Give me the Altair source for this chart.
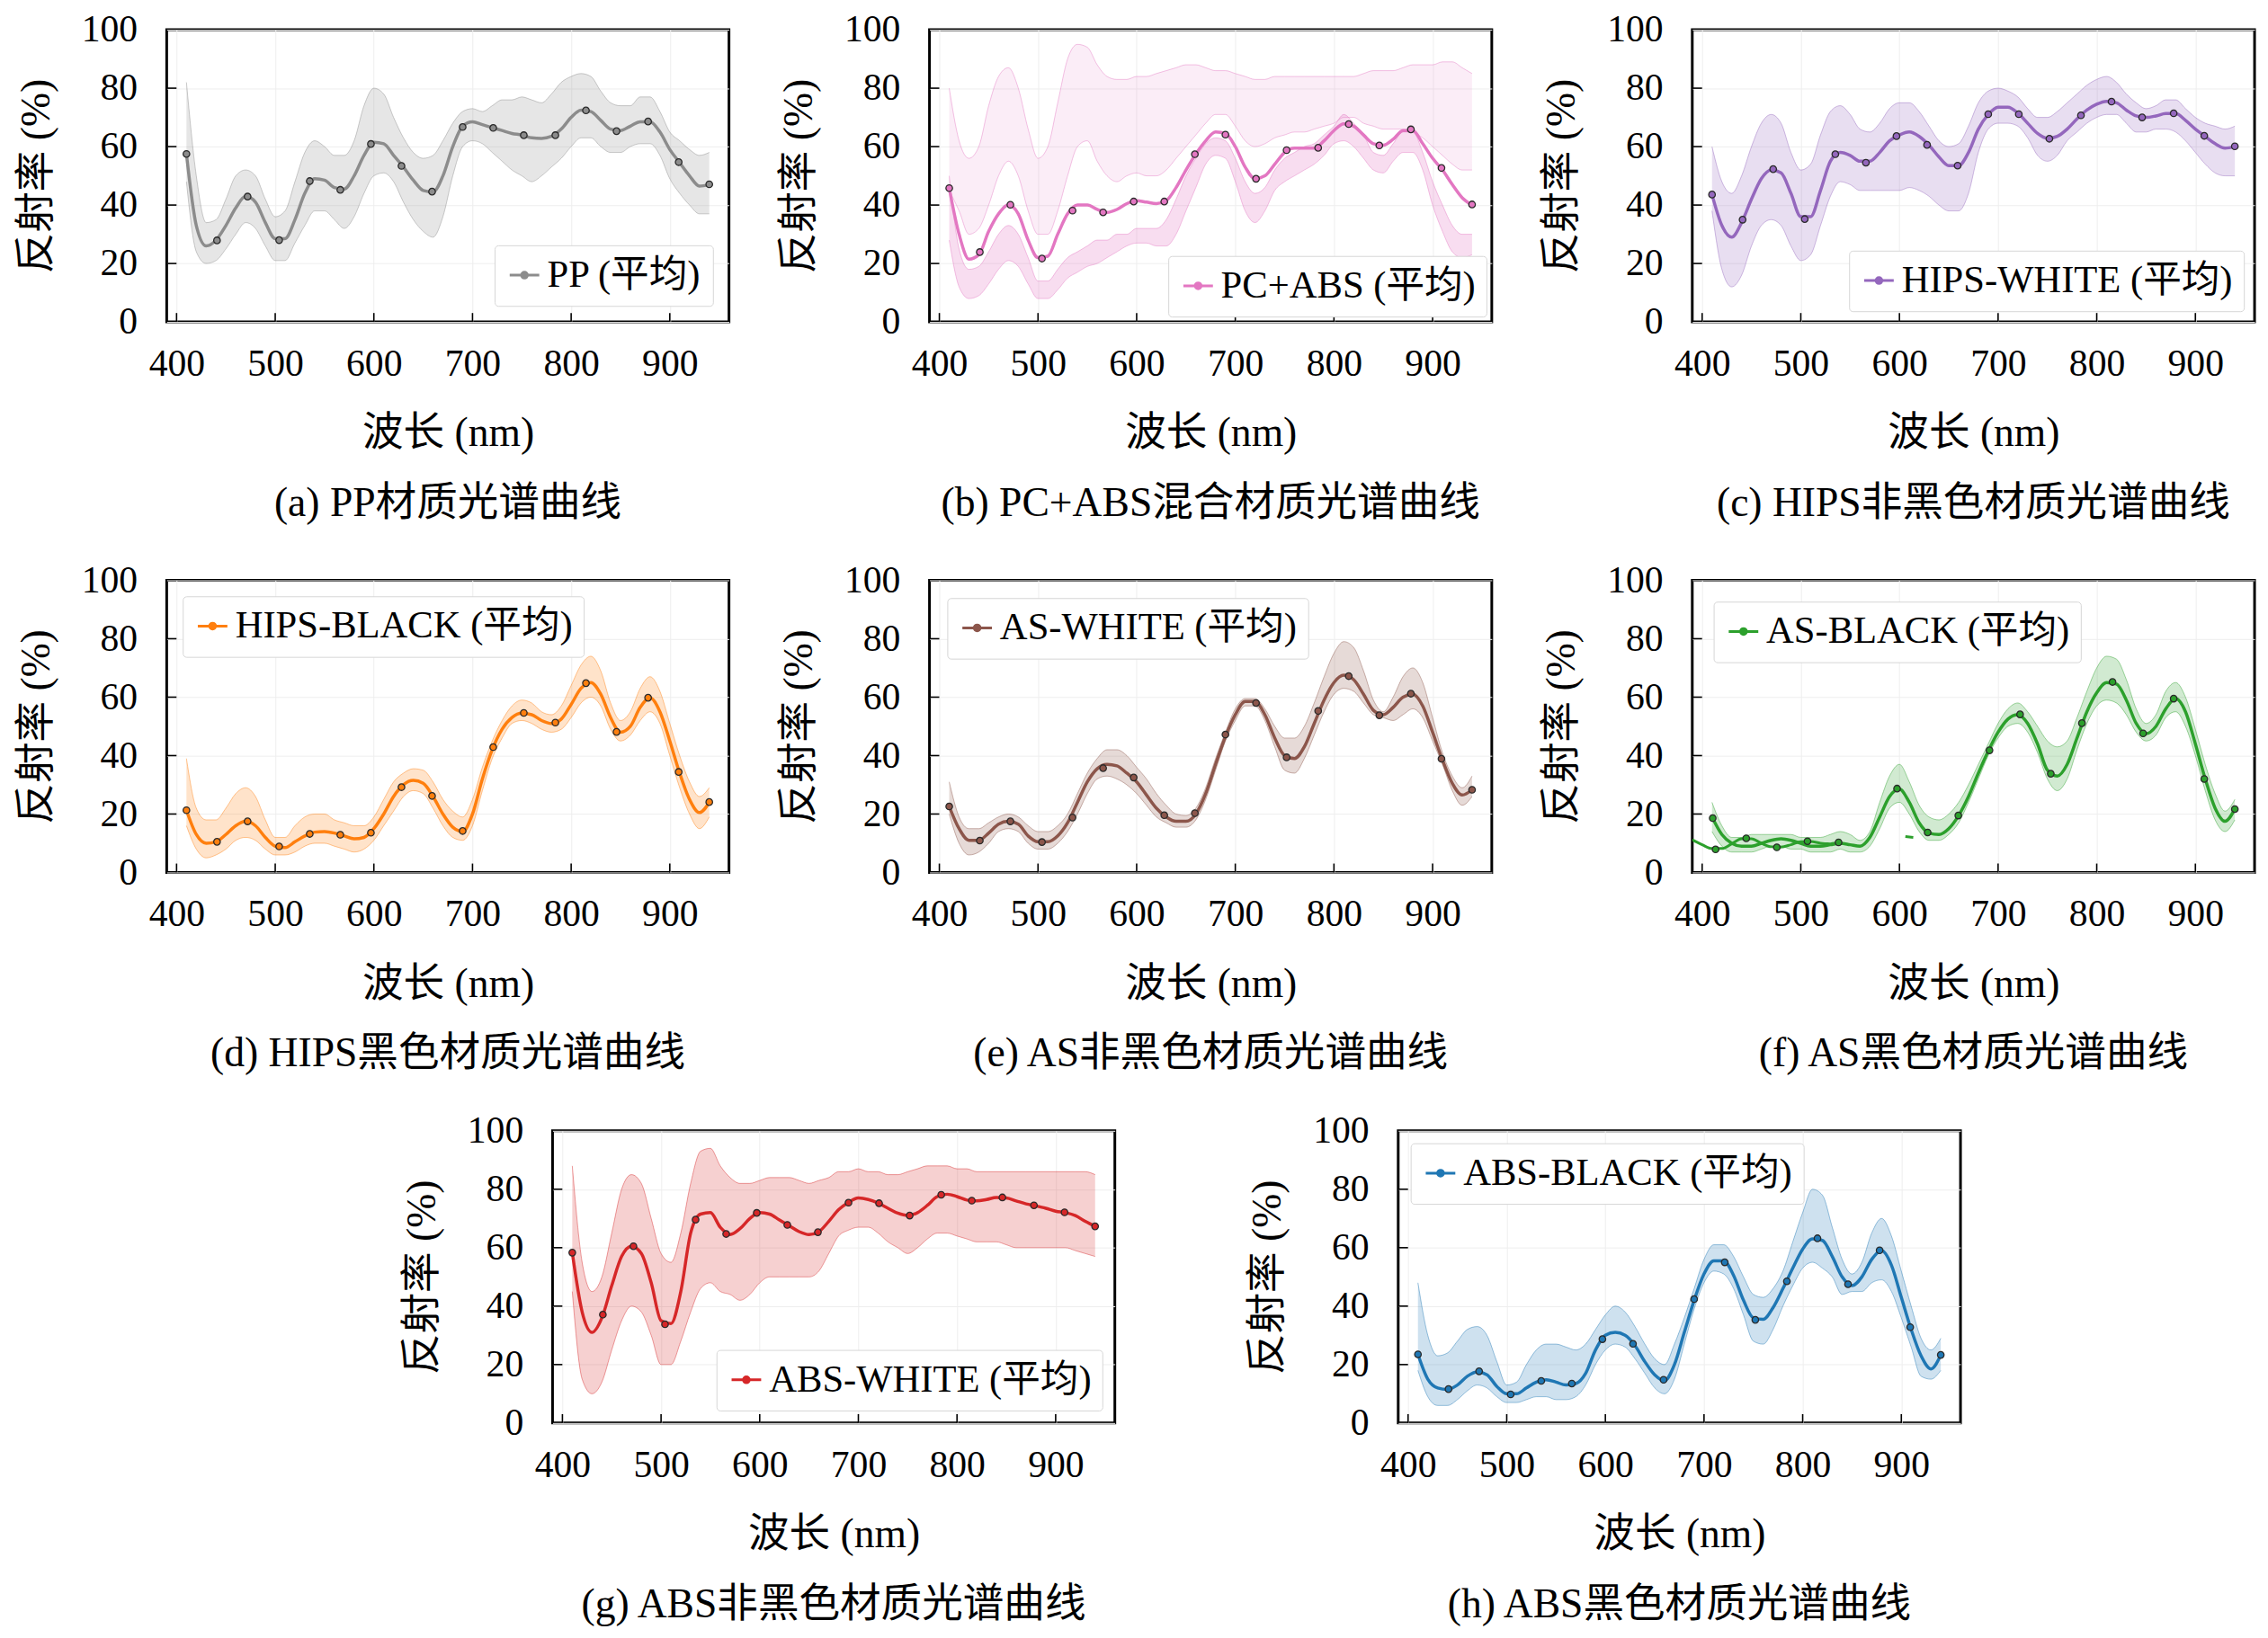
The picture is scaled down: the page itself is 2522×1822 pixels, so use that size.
import altair as alt
import pandas as pd

FONT = "Liberation Serif, Noto Sans CJK SC"
W, H = 631, 328
FS_TICK = 42
FS_TEXT = 46

# wavelength grid (nm) and marker positions
WL = list(range(410, 941, 10))
MK_WL = [410, 441, 472, 504, 535, 566, 597, 628, 659, 690, 721, 752, 784, 815, 846, 878, 909, 940]
X_TICKS = [400, 500, 600, 700, 800, 900]
Y_TICKS = [0, 20, 40, 60, 80, 100]

# (a) PP
PP_MEAN = [57.5, 33, 26, 28, 33, 39, 43, 41, 34, 28.5,
           28.5, 35, 44, 49, 48.5, 46, 45.5, 50, 57, 61.5,
           61, 57, 53, 48.5, 45, 44.5, 50, 60, 67, 68.5,
           67.5, 66.5, 65.5, 64.5, 64, 63, 62.8, 63.5, 66, 70,
           72.5, 72, 69, 66, 65.5, 67, 68.5, 68.5, 65, 59,
           54.5, 50, 46.5, 47]
PP_LO = [48, 24, 20, 21, 25, 30, 34, 32, 26, 21,
         21, 27, 33, 38, 38, 35, 32, 36, 44, 50,
         51, 48, 41, 35, 31, 29, 36, 50, 60, 62,
         61, 58, 55, 52, 50, 48, 50, 53, 56, 60,
         63, 63, 60, 58, 58, 60, 61, 61, 57, 49,
         44, 40, 37, 37]
PP_HI = [82, 50, 34, 35, 42, 50, 52, 50, 42, 36,
         38, 48, 58, 62, 60, 57, 57, 62, 74, 80,
         78, 70, 63, 58, 56, 57, 62, 68, 72, 73,
         72, 74, 76, 76, 77, 76, 75, 78, 82, 84,
         85, 84, 79, 75, 74, 74, 77, 77, 72, 65,
         62, 59, 57, 58]
PP_MK = [57.5, 27.9, 42.9, 28, 48.2, 45.2, 60.9, 53.4, 44.6, 66.7, 66.4, 63.9, 63.9, 72.4, 65.3, 68.6, 54.7, 47.1]

# (b) PC+ABS
PC_MEAN = [45.8, 30, 21.5, 23, 31, 37, 40, 37, 28, 22,
           22.5, 30, 37, 40, 40, 38.5, 37.5, 38.5, 40.5, 41.5,
           41, 40.5, 41.5, 46, 52, 57.5, 62, 65, 64.5, 60,
           53, 49, 50, 54, 58, 59.5, 59.5, 59.5, 62, 65.5,
           67.8, 67, 64, 61, 60.5, 62.5, 65.5, 65.5, 61, 56,
           52, 47, 42.5, 40]
PC_LO1 = [28, 12, 8, 9, 13, 18, 21, 19, 13, 8,
          8, 11, 15, 17, 19, 20, 22, 24, 26, 27,
          27, 26, 26, 30, 38, 46, 54, 57, 56, 48,
          38, 34, 38, 45, 48, 50, 52, 54, 57, 61,
          62, 60, 56, 52, 51, 55, 58, 58, 52, 40,
          31, 24, 22, 23]
PC_HI1 = [50, 25, 18, 19, 24, 30, 33, 30, 22, 14,
          14, 18, 22, 24, 26, 28, 28, 30, 30, 32,
          32, 32, 35, 42, 50, 56, 61, 63, 62, 56,
          48, 44, 46, 52, 56, 58, 60, 61, 64, 67,
          71, 68, 64, 58, 57, 61, 65, 65, 58, 48,
          40, 33, 30, 30]
PC_LO2 = [45, 38, 30, 32, 40, 50, 55, 50, 38, 30,
          30, 38, 50, 60, 62, 55, 50, 48, 50, 51,
          50, 50, 52, 56, 60, 64, 68, 71, 71, 67,
          62, 60, 61, 63, 64, 65, 65, 66, 67, 68,
          70, 70, 68, 67, 66, 66, 66, 65, 63, 60,
          57, 54, 52, 52]
PC_HI2 = [80, 62, 56, 60, 74, 84, 87, 80, 66, 56,
          60, 75, 90, 95, 94, 88, 84, 83, 83, 84,
          84, 85, 86, 87, 88, 88, 87, 86, 86, 85,
          84, 83, 83, 84, 84, 84, 84, 84, 84, 84,
          84, 84, 85, 86, 86, 86, 87, 88, 88, 88,
          89, 89, 87, 85]
PC_MK = [45.8, 23.9, 40.1, 21.7, 38.1, 37.5, 41.2, 41.2, 57.4, 64.1, 49, 58.8, 59.6, 67.7, 60.4, 65.9, 52.7, 40.2]

# (c) HIPS-WHITE
HW_MEAN = [43.6, 33, 29, 34, 42, 49, 52, 51, 44, 36,
           36, 45, 55, 58, 57, 55, 55, 58, 62, 64,
           65, 63.5, 60.5, 56.5, 53.5, 53.5, 58, 66, 71, 73.5,
           73.5, 71.5, 68, 64.5, 62.8, 63.5, 66, 69.5, 72.5, 74.5,
           75.5, 75, 72.5, 70.5, 70, 70.5, 71.3, 71.3, 69, 66,
           63.5, 61, 59.5, 60]
HW_LO = [38, 18, 12, 16, 26, 33, 35, 33, 26, 21,
         23, 33, 43, 48, 47, 45, 45, 45, 45, 45,
         46, 45, 43, 40, 38, 38, 44, 58, 66, 68,
         68, 67, 63, 57, 55, 57, 62, 65, 68, 70,
         71, 71, 68, 65, 65, 66, 66, 65, 62, 58,
         54, 51, 50, 50]
HW_HI = [60, 48, 44, 50, 60, 68, 71, 68, 58, 52,
         54, 64, 72, 74, 71, 66, 65, 68, 73, 75,
         75, 72, 67, 62, 60, 61, 67, 75, 79, 80,
         79, 77, 73, 70, 70, 72, 75, 78, 81, 83,
         84, 82, 78, 75, 73, 74, 76, 76, 73, 70,
         68, 67, 66, 67]
HW_MK = [43.6, 35, 52.3, 35.2, 57.4, 54.5, 63.6, 60.6, 53.5, 71.1, 71.1, 62.7, 70.7, 75.4, 70, 71.4, 63.7, 60.1]

# (d) HIPS-BLACK
HB_MEAN = [21.3, 13, 10, 10.5, 13, 16, 17.5, 16, 12, 9,
           8.5, 10.5, 12.5, 13.8, 14, 13.5, 12.5, 11.5, 12, 15,
           20, 26, 30, 31.5, 30.5, 26, 20, 15.5, 14, 20,
           32, 42, 49, 53, 54.5, 54, 52, 51, 52.5, 57.5,
           63, 65, 61, 53, 48, 50, 56.5, 59.8, 55, 45,
           34, 25, 20.5, 24]
HB_LO = [16, 8, 5, 6, 8, 11, 12, 11, 8, 6,
         6, 7, 9, 10, 10, 9, 8, 7, 8, 11,
         16, 21, 26, 28, 27, 22, 16, 12, 11, 16,
         28, 39, 46, 51, 52, 51, 49, 48, 49, 53,
         58, 60, 57, 49, 45, 47, 52, 55, 51, 40,
         29, 20, 15, 19]
HB_HI = [39, 22, 18, 18, 22, 27, 29, 26, 18, 12,
         12, 16, 19, 20, 20, 18, 17, 16, 16, 19,
         25, 31, 34, 35.5, 35, 31, 25, 21, 19, 25,
         36, 45, 52, 57, 59, 58, 55, 54, 57, 64,
         71, 74, 69, 58, 52, 55, 63, 67, 62, 51,
         40, 31, 26, 29]
HB_MK = [21.3, 10.5, 17.5, 8.9, 13.2, 12.9, 13.6, 29.2, 26.2, 14.2, 42.9, 54.6, 51.3, 64.8, 48.1, 59.8, 34.4, 24.1]

# (e) AS-WHITE
AW_MEAN = [22.6, 15, 11, 11, 13.5, 16.5, 17.5, 16.5, 12.5, 10.5,
           10.5, 12.5, 17, 24, 31, 35.5, 37, 36.5, 34, 31,
           26.5, 22, 19, 17.5, 17.5, 20, 27, 37, 46.5, 54,
           58.5, 58.5, 54, 46, 40, 39, 43, 51, 59, 65,
           67.5, 66, 61, 55.5, 54, 56.5, 60, 61, 57, 48,
           38.5, 30.5, 26.5, 28.3]
AW_LO = [20, 10, 6, 7, 10, 14, 15, 14, 10, 8,
         8, 10, 14, 20, 27, 32, 33, 32, 30, 27,
         23, 19, 17, 15.5, 15.5, 18, 25, 35, 45, 52,
         57, 57, 52, 43, 35, 34, 39, 47, 55, 61,
         63, 62, 58, 54, 53, 52, 54, 56, 53, 45,
         37, 28, 23, 26]
AW_HI = [31, 19, 15, 15, 17, 19, 20, 19, 16, 14,
         14, 16, 20, 27, 34, 39, 42, 42, 40, 36,
         32, 27, 23, 20, 19.5, 22, 29, 39, 48, 56,
         59.5, 59.5, 56, 50, 46, 46, 50, 58, 67, 75,
         79, 77, 69, 59, 55, 60, 67, 70, 65, 53,
         41, 33, 29, 33]
AW_MK = [22.6, 10.9, 17.5, 10.4, 18.8, 35.7, 32.5, 19.6, 20.3, 47.2, 58, 39.4, 55.3, 67.2, 53.8, 61.2, 38.9, 28.3]

# (f) AS-BLACK
AB_MEAN = [19, 13, 10, 9, 9, 10, 11, 11.5, 11, 10,
           9, 9, 9.5, 10, 9.5, 9, 12, 19, 26, 28.5,
           24, 17, 13.5, 13, 15, 19.5, 26, 34, 41.5, 48,
           52.5, 54, 51, 44, 35, 33, 37, 46, 55, 61.5,
           65, 64.5, 59, 51, 47.5, 50, 56, 59.5, 55, 44,
           32, 22, 17.5, 21.7]
AB_LO = [14, 9, 7, 7, 7, 8, 9, 9, 8, 8,
         7, 7, 7, 8, 7, 7, 9, 15, 22, 24,
         20, 14, 11, 11, 13, 17, 24, 32, 40, 46,
         50, 51, 48, 41, 32, 28, 32, 42, 51, 57,
         59, 58, 54, 48, 45, 47, 53, 55, 50, 40,
         28, 18, 14, 18]
AB_HI = [24, 16, 12, 12, 13, 13, 13, 13, 13, 12,
         12, 12, 13, 14, 13, 11, 14, 24, 33, 37,
         31, 23, 19, 18, 20, 24, 30, 37, 44, 51,
         56, 58, 55, 50, 45, 43, 45, 53, 62, 70,
         74, 73, 66, 56, 51, 54, 62, 65, 60, 49,
         37, 27, 21, 25]
AB_MK_WL = [410.7, 413.6, 444.7, 475.7, 506.8, 538.3, 597.6, 628.6, 659.7, 691.3, 722.3, 753.4, 785, 816, 847, 878, 909, 940]
AB_MK = [18.6, 7.9, 11.7, 8.6, 10.7, 10.3, 28.7, 13.7, 19.5, 41.8, 54.1, 33.8, 51.1, 65.2, 47.6, 59.5, 32, 21.7]
AB_X_WL = [390, 400, 410, 420, 430, 440, 450, 460, 470, 480, 490, 500, 510, 520, 530, 540]
AB_X = [11.2, 9.5, 8.2, 8.2, 9.8, 11.5, 11.5, 10, 8.8, 8.7, 9.5, 10.5, 10.6, 10, 9.8, 10.6]
AB_SEG_WL = [606, 614]
AB_SEG = [12.3, 12.0]

# (g) ABS-WHITE
GW_MEAN = [58.3, 38, 31, 36, 47, 57, 60.5, 58, 48, 35,
           34, 45, 65, 71.5, 72, 67, 64.5, 66.5, 70, 72,
           71.5, 69.5, 67.5, 65.5, 64.5, 65.5, 69, 73, 75.5, 77,
           76.5, 75.3, 73.5, 71.8, 71, 72, 74.5, 77.5, 78.3, 77.5,
           76.3, 76, 76.5, 77.2, 77, 76, 75, 74.3, 73.5, 72.5,
           72, 71, 69, 67.3]
GW_LO = [45, 15, 10, 14, 25, 35, 40, 38, 30, 20,
         20, 28, 38, 46, 48, 45, 44, 42, 44, 48,
         50, 50, 50, 50, 50, 52, 58, 64, 66, 67,
         67, 65, 62, 60, 58, 60, 63, 65, 65, 64,
         63, 62, 62, 62, 61, 60, 60, 60, 60, 60,
         60, 59, 58, 57]
GW_HI = [88, 55, 45, 50, 65, 80, 85, 82, 70, 58,
         55, 65, 82, 93, 94, 88, 84, 82, 82, 83,
         84, 84, 84, 83, 82, 83, 84, 86, 86, 87,
         86, 86, 85, 85, 86, 87, 88, 88, 88, 87,
         87, 86, 86, 86, 86, 86, 86, 86, 86, 86,
         86, 86, 86, 85]
GW_MK = [58.3, 37.1, 60.5, 33.8, 69.6, 64.7, 71.9, 67.8, 65.3, 75.4, 75.2, 71, 78.1, 76.1, 77.2, 74.5, 72.1, 67.3]

# (h) ABS-BLACK
GB_MEAN = [23.5, 15, 12, 11.5, 13, 16, 17.5, 16.5, 12.5, 10,
           10, 12, 14, 14.8, 14, 13, 13.5, 17, 25, 30,
           31, 30, 26.5, 21, 16.5, 14.5, 20, 31, 42, 51,
           55.5, 55.5, 50.5, 42, 36, 35.5, 39.5, 46, 53, 59.5,
           63, 62.5, 57, 50, 47, 50, 56, 59, 54, 43,
           32, 23, 18.5, 23.3]
GB_LO = [18, 9, 6, 6, 8, 11, 13, 12, 9, 7,
         7, 8, 9, 9, 8, 8, 9, 13, 20, 25,
         27, 26, 22, 17, 12, 10, 15, 27, 39, 48,
         52, 51, 46, 37, 28, 27, 32, 40, 47, 53,
         55, 53, 50, 44, 45, 45, 48, 49, 45, 36,
         26, 16, 15, 18]
GB_HI = [48, 30, 23, 24, 28, 32, 33, 30, 21, 13,
         14, 20, 25, 27, 27, 26, 25, 27, 32, 37,
         40, 38, 33, 27, 22, 20, 27, 36, 46, 56,
         61, 61, 57, 50, 44, 43, 46, 52, 62, 72,
         80, 78, 67, 56, 51, 55, 65, 70, 64, 52,
         40, 29, 25, 29]
GB_MK = [23.5, 11.6, 17.7, 9.8, 14.4, 13.5, 28.7, 27.1, 14.8, 42.4, 55, 35.3, 48.5, 63.2, 47.5, 59.1, 32.8, 23.3]

XS = alt.Scale(domain=[390, 960], nice=False, zero=False)
YS = alt.Scale(domain=[0, 100], nice=False)
X_AXIS = alt.Axis(values=X_TICKS, labelPadding=27, titlePadding=35, labelFlush=False)
Y_AXIS = alt.Axis(values=Y_TICKS, labelPadding=33, titlePadding=26)

# legend symbol: short line with a dot
LEG_PATH = "M-1,0L1,0M0.2,0A0.2,0.2,0,1,1,-0.2,0A0.2,0.2,0,1,1,0.2,0Z"


def xq(field):
    return alt.X(f"{field}:Q", scale=XS, axis=X_AXIS, title="波长 (nm)")


def yq(field):
    return alt.Y(f"{field}:Q", scale=YS, axis=Y_AXIS, title="反射率 (%)")


def panel(label, caption, color, mean, bands, mk_x, mk_y, orient, offset, extra=(), band_op=(0.22,)):
    layers = []
    for i, (lo, hi) in enumerate(bands):
        op = band_op[i] if i < len(band_op) else band_op[-1]
        band = pd.DataFrame({"wl": WL, "lo": lo, "hi": hi})
        layers.append(alt.Chart(band).mark_area(color=color, opacity=op, interpolate="monotone", clip=True).encode(
            x=xq("wl"), y=yq("lo"), y2="hi:Q"))
        edge = band.melt("wl", value_name="r")
        layers.append(alt.Chart(edge).mark_line(color=color, opacity=0.45, strokeWidth=1, interpolate="monotone", clip=True).encode(
            x=xq("wl"), y=yq("r"), detail="variable:N"))
    for ex_x, ex_y in extra:
        ex = pd.DataFrame({"wl": ex_x, "r": ex_y})
        layers.append(alt.Chart(ex).mark_line(color=color, strokeWidth=3, interpolate="monotone", clip=True).encode(
            x=xq("wl"), y=yq("r")))
    m = pd.DataFrame({"wl": WL, "r": mean, "s": label})
    layers.append(alt.Chart(m).mark_line(strokeWidth=3.5, interpolate="monotone", clip=True).encode(
        x=xq("wl"), y=yq("r"),
        color=alt.Color("s:N", scale=alt.Scale(range=[color]), title=None,
                        legend=alt.Legend(orient=orient, offset=offset,
                                          symbolFillColor=color, symbolStrokeColor=color))))
    mk = pd.DataFrame({"wl": mk_x, "r": mk_y})
    layers.append(alt.Chart(mk).mark_point(shape="circle", filled=True, size=55, color=color,
                                           stroke="#2a2a2a", strokeWidth=1.3, opacity=1).encode(
        x=xq("wl"), y=yq("r")))
    # inward ticks on the bottom and left edges
    bt = pd.DataFrame({"t": X_TICKS})
    layers.append(alt.Chart(bt).mark_rule(color="black", strokeWidth=1.6).encode(
        x=xq("t"), y=alt.value(H), y2=alt.value(H - 10)))
    lt = pd.DataFrame({"t": Y_TICKS[1:-1]})
    layers.append(alt.Chart(lt).mark_rule(color="black", strokeWidth=1.6).encode(
        y=yq("t"), x=alt.value(0), x2=alt.value(11)))
    return alt.layer(*layers).properties(
        width=W, height=H,
        title=alt.TitleParams(caption, orient="bottom", anchor="middle", frame="group", offset=34))


def spacer(width):
    return alt.Chart(pd.DataFrame({"v": [0]})).mark_point(opacity=0).encode(
        x=alt.X("v:Q", axis=None), y=alt.Y("v:Q", axis=None)
    ).properties(width=width, height=H, view=alt.ViewBackground(stroke="transparent"))


a = panel("PP (平均)", "(a) PP材质光谱曲线", "#8c8c8c", PP_MEAN, [(PP_LO, PP_HI)], MK_WL, PP_MK, "bottom-right", 18)
b = panel("PC+ABS (平均)", "(b) PC+ABS混合材质光谱曲线", "#e377c2", PC_MEAN,
          [(PC_LO1, PC_HI1), (PC_LO2, PC_HI2)], MK_WL, PC_MK, "bottom-right", 6, band_op=(0.25, 0.13))
c = panel("HIPS-WHITE (平均)", "(c) HIPS非黑色材质光谱曲线", "#9467bd", HW_MEAN, [(HW_LO, HW_HI)], MK_WL, HW_MK, "bottom-right", 12)
d = panel("HIPS-BLACK (平均)", "(d) HIPS黑色材质光谱曲线", "#ff7f0e", HB_MEAN, [(HB_LO, HB_HI)], MK_WL, HB_MK, "top-left", 18)
e = panel("AS-WHITE (平均)", "(e) AS非黑色材质光谱曲线", "#8c564b", AW_MEAN, [(AW_LO, AW_HI)], MK_WL, AW_MK, "top-left", 20)
f = panel("AS-BLACK (平均)", "(f) AS黑色材质光谱曲线", "#2ca02c", AB_MEAN, [(AB_LO, AB_HI)], AB_MK_WL, AB_MK, "top-left", 24,
          extra=[(AB_X_WL, AB_X), (AB_SEG_WL, AB_SEG)])
g = panel("ABS-WHITE (平均)", "(g) ABS非黑色材质光谱曲线", "#d62728", GW_MEAN, [(GW_LO, GW_HI)], MK_WL, GW_MK, "bottom-right", 14)
h = panel("ABS-BLACK (平均)", "(h) ABS黑色材质光谱曲线", "#1f77b4", GB_MEAN, [(GB_LO, GB_HI)], MK_WL, GB_MK, "top-left", 14)

row1 = alt.hconcat(a, b, c, spacing=52).resolve_scale(color="independent").resolve_legend(color="independent")
row2 = alt.hconcat(d, e, f, spacing=52).resolve_scale(color="independent").resolve_legend(color="independent")
# a blank cell pushes the last row to the right
row3 = alt.hconcat(spacer(115), g, h, spacing=145).resolve_scale(
    color="independent").resolve_legend(color="independent")

chart = alt.vconcat(row1, row2, row3, spacing=38).resolve_scale(
    color="independent"
).resolve_legend(
    color="independent"
).properties(
    padding={"left": 8, "top": -6, "right": 5, "bottom": 0}
).configure_view(
    stroke="black", strokeWidth=3
).configure_axis(
    labelFont=FONT, titleFont=FONT, labelFontSize=FS_TICK, titleFontSize=FS_TEXT,
    titleFontWeight="normal", labelColor="black", titleColor="black",
    ticks=False, domain=False, grid=True, gridColor="#eeeeee", gridWidth=1
).configure_legend(
    labelFont=FONT, labelFontSize=43, labelColor="black", labelLimit=1000,
    padding=12, fillColor="white", strokeColor="#d6d6d6", cornerRadius=4,
    symbolType=LEG_PATH, symbolSize=1100, symbolStrokeWidth=3, labelOffset=4
).configure_title(
    font=FONT, fontSize=FS_TEXT, fontWeight="normal", color="black"
)

chart.save("out.html", embed_options={"renderer": "svg", "actions": False})
